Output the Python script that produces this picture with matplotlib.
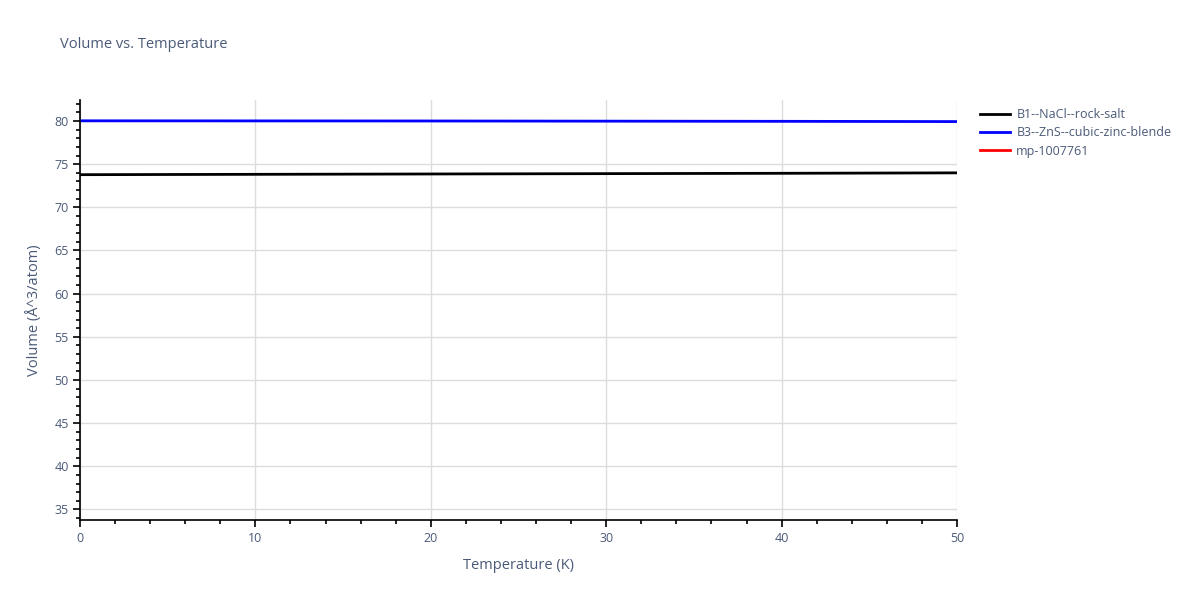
import matplotlib.pyplot as plt
from matplotlib.ticker import MultipleLocator

plt.rcParams["font.family"] = ["Open Sans", "DejaVu Sans"]

# temperatures (K) and volumes (A^3/atom)
temp = [0, 10, 20, 30, 40, 50]
vol_b1 = [73.78, 73.82, 73.86, 73.90, 73.94, 73.99]
vol_b3 = [80.02, 80.01, 80.00, 79.98, 79.96, 79.93]
temp_mp = []
vol_mp = []

names = ["B1--NaCl--rock-salt", "B3--ZnS--cubic-zinc-blende", "mp-1007761"]
colors = ["black", "blue", "red"]

txt = "#4a5a78"

fig = plt.figure(figsize=(12, 6), dpi=100)
ax = fig.add_axes([80 / 1200, 80 / 600, 877 / 1200, 420 / 600])

ax.plot(temp, vol_b1, color=colors[0], lw=2, label=names[0])
ax.plot(temp, vol_b3, color=colors[1], lw=2, label=names[1])
ax.plot(temp_mp, vol_mp, color=colors[2], lw=2, label=names[2])

ax.set_xlim(0, 50)
ax.set_ylim(33.78, 82.43)
ax.xaxis.set_major_locator(MultipleLocator(10))
ax.xaxis.set_minor_locator(MultipleLocator(2))
ax.yaxis.set_major_locator(MultipleLocator(5))
ax.yaxis.set_minor_locator(MultipleLocator(1))
ax.grid(True, which="major", color="#dcdcdc", lw=1)
ax.set_axisbelow(True)

for s in ["top", "right"]:
    ax.spines[s].set_visible(False)
for s in ["left", "bottom"]:
    ax.spines[s].set_color("black")
    ax.spines[s].set_linewidth(1.2)

ax.tick_params(axis="both", which="major", length=5, width=1.2, color="black",
               labelcolor=txt, labelsize=9, pad=3)
ax.tick_params(axis="both", which="minor", length=3, width=1.2, color="black")
ax.tick_params(axis="x", which="major", pad=4)

ax.set_xlabel("Temperature (K)", color=txt, fontsize=10.5, labelpad=9)
ax.set_ylabel("Volume (Å^3/atom)", color=txt, fontsize=10.5, labelpad=9)

fig.text(60 / 1200, 1 - 45 / 600, "Volume vs. Temperature", color=txt,
         fontsize=10.5, va="center", ha="left")

fig.legend(loc="upper left", bbox_to_anchor=(975 / 1200, 1 - 103 / 600),
           frameon=False, fontsize=9, labelcolor=txt, handlelength=2.4,
           handletextpad=0.5, labelspacing=0.42, borderaxespad=0)

plt.savefig("out.png")
